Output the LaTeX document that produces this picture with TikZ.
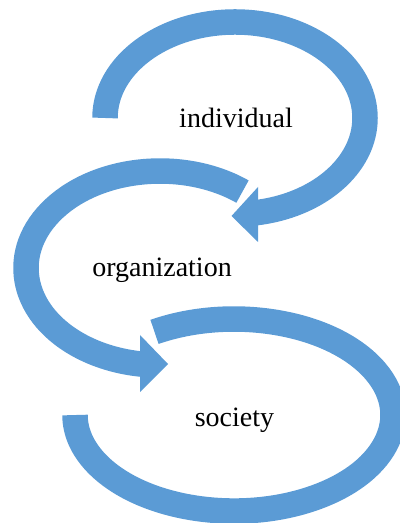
\documentclass[tikz,border=0pt]{standalone}
\usepackage{fontspec}
\setmainfont{Liberation Serif}
\definecolor{arrowblue}{HTML}{5B9BD5}
\begin{document}
\begin{tikzpicture}[x=0.5pt,y=0.5pt,
  band/.style={draw=arrowblue, line width=12.75pt, line cap=butt},
  head/.style={fill=arrowblue, draw=none},
  lbl/.style={font=\fontsize{14}{17}\selectfont, anchor=base, inner sep=0pt}]
\useasboundingbox (0,0) rectangle (400,523);
% individual loop
\draw[band] (105,405) arc[start angle=180, end angle=-81.5, x radius=130, y radius=96];
\fill[head] (258,336) -- (258,281) -- (231.5,307) -- cycle;
% organization loop
\draw[band] (242.5,331.4) arc[start angle=52, end angle=263, x radius=134, y radius=97];
\fill[head] (140,188) -- (140,131) -- (168,159) -- cycle;
% society loop
\draw[band] (154.5,191.1) arc[start angle=120, end angle=-180, x radius=159, y radius=96];
% labels
\node[lbl] (individual) at (236,395) {individual};
\node[lbl] (organization) at (162,246) {organization};
\node[lbl] (society) at (234.5,96) {society};
\end{tikzpicture}
\end{document}
